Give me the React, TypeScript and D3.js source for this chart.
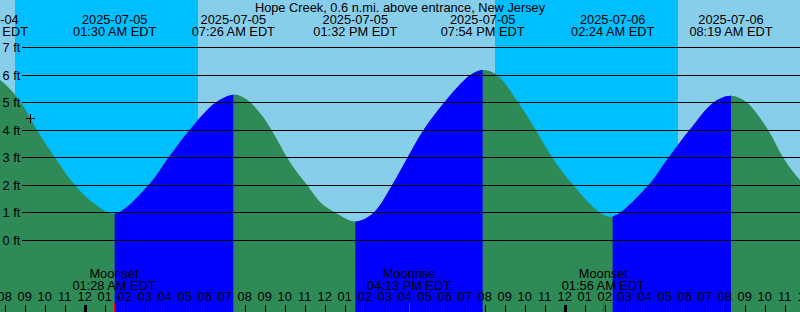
import React from "react";
import * as d3 from "d3";

const title = "Hope Creek, 0.6 n.mi. above entrance, New Jersey";
const windowStart = "2025-07-04 19:46";
const windowEnd = "2025-07-06 11:46";

// High / low tide events
const extremeTimes = [
  "2025-07-04 19:04",
  "2025-07-05 01:30",
  "2025-07-05 07:26",
  "2025-07-05 13:32",
  "2025-07-05 19:54",
  "2025-07-06 02:24",
  "2025-07-06 08:19",
  "2025-07-06 14:05",
];
const extremeHeights = [6.0, 0.97, 5.29, 0.69, 6.18, 0.87, 5.25, 0.6];
const extremeKinds = ["high", "low", "high", "low", "high", "low", "high", "low"];

// Intermediate tide levels
const readingTimes = [
  "2025-07-04 19:47", "2025-07-04 20:49", "2025-07-04 21:37", "2025-07-04 22:31", "2025-07-04 23:31", "2025-07-05 00:30",
  "2025-07-05 03:11", "2025-07-05 04:11", "2025-07-05 05:14", "2025-07-05 06:32",
  "2025-07-05 07:51", "2025-07-05 08:18", "2025-07-05 08:51", "2025-07-05 09:21", "2025-07-05 10:08", "2025-07-05 10:36", "2025-07-05 11:08", "2025-07-05 11:46", "2025-07-05 12:34",
  "2025-07-05 14:26", "2025-07-05 15:22", "2025-07-05 16:08", "2025-07-05 16:56", "2025-07-05 17:58", "2025-07-05 19:17",
  "2025-07-05 20:37", "2025-07-05 21:41", "2025-07-05 22:34", "2025-07-05 23:23", "2025-07-06 00:26", "2025-07-06 01:47",
  "2025-07-06 04:11", "2025-07-06 05:11", "2025-07-06 06:14", "2025-07-06 07:26",
  "2025-07-06 09:07", "2025-07-06 10:11", "2025-07-06 10:56", "2025-07-06 11:47",
];
const readingHeights = [
  5.81, 5.0, 4.0, 3.0, 2.0, 1.32,
  2.0, 3.0, 4.0, 5.0,
  5.22, 5.0, 4.55, 4.0, 3.0, 2.49, 2.0, 1.4, 1.0,
  1.0, 2.0, 3.0, 4.0, 5.0, 6.0,
  6.0, 5.0, 4.0, 3.0, 2.0, 1.0,
  2.0, 3.0, 4.0, 5.0,
  5.0, 4.0, 3.0, 2.18,
];

const sunsetTimes = ["2025-07-04 20:31", "2025-07-05 20:31"];
const sunriseTimes = ["2025-07-05 05:40", "2025-07-06 05:40"];

const moonEvents = ["Moonset", "Moonrise", "Moonset"];
const moonTimes = ["2025-07-05 01:28", "2025-07-05 16:13", "2025-07-06 01:56"];

const heightTicks = [0, 1, 2, 3, 4, 5, 6, 7];

const nowTime = "2025-07-04 21:16";
const nowHeight = 4.43;

const W = 800;
const H = 312;
const FONT = "'Liberation Sans', Arial, Helvetica, sans-serif";
const FS = 12.8;
const DAY = "#87CEEB";
const NIGHT = "#00BFFF";
const FALLING = "#2E8B57";
const RISING = "#0000FF";

const parse = d3.timeParse("%Y-%m-%d %H:%M");
const fmtDate = d3.timeFormat("%Y-%m-%d");
const fmtTime = d3.timeFormat("%I:%M %p EDT");
const fmtHour = d3.timeFormat("%I");

export default function App() {
  const t0 = parse(windowStart)!;
  const t1 = parse(windowEnd)!;
  const x = d3.scaleTime().domain([t0, t1]).range([0, W]);
  const y = d3.scaleLinear().domain([0, 7]).range([240.5, 47.5]);

  const series = [
    ...extremeTimes.map((t, i) => ({ t: parse(t)!, h: extremeHeights[i] })),
    ...readingTimes.map((t, i) => ({ t: parse(t)!, h: readingHeights[i] })),
  ].sort((a, b) => +a.t - +b.t);

  const area = d3
    .area<{ t: Date; h: number }>()
    .x((d) => x(d.t))
    .y0(H)
    .y1((d) => y(d.h))
    .curve(d3.curveCatmullRom.alpha(0.5));
  const areaPath = area(series) || "";

  const rising: { a: Date; b: Date }[] = [];
  extremeTimes.forEach((t, i) => {
    if (extremeKinds[i] === "low" && i + 1 < extremeTimes.length) {
      rising.push({ a: parse(t)!, b: parse(extremeTimes[i + 1])! });
    }
  });

  const nights = sunsetTimes.map((s, i) => ({ a: parse(s)!, b: parse(sunriseTimes[i])! }));

  const hours = d3.timeHour.range(d3.timeHour.offset(t0, -1), d3.timeHour.offset(t1, 1));

  const px = (v: number) => Math.round(v) + 0.5;

  const nx = x(parse(nowTime)!);
  const ny = y(nowHeight);

  return (
    <svg
      width={W}
      height={H}
      style={{ position: "absolute", left: 0, top: 0, display: "block" }}
      fontFamily={FONT}
      fontSize={FS}
    >
      <defs>
        <clipPath id="risingClip">
          {rising.map((r, i) => (
            <rect key={i} x={x(r.a)} y={0} width={x(r.b) - x(r.a)} height={H} />
          ))}
        </clipPath>
      </defs>
      <rect x={0} y={0} width={W} height={H} fill={DAY} />
      {nights.map((n, i) => (
        <rect key={i} x={Math.round(x(n.a))} y={0} width={Math.round(x(n.b)) - Math.round(x(n.a))} height={H} fill={NIGHT} />
      ))}
      <path d={areaPath} fill={FALLING} />
      <path d={areaPath} fill={RISING} clipPath="url(#risingClip)" />

      {heightTicks.map((h) => (
        <g key={h}>
          <line x1={22} x2={W} y1={Math.floor(y(h)) + 0.5} y2={Math.floor(y(h)) + 0.5} stroke="#000" strokeWidth={1} shapeRendering="crispEdges" />
          <text x={2.5} y={y(h) + 4.5} fill="#000">{`${h} ft`}</text>
        </g>
      ))}

      <text x={W / 2} y={11.5} textAnchor="middle" fill="#000">{title}</text>

      {extremeTimes.map((t, i) => {
        const d = parse(t)!;
        const cx = x(d);
        return (
          <g key={i}>
            <text x={cx} y={23.5} textAnchor="middle" fill="#000">{fmtDate(d)}</text>
            <text x={cx} y={35.5} textAnchor="middle" fill="#000">{fmtTime(d)}</text>
          </g>
        );
      })}

      {hours.map((hh, i) => {
        const hx = x(hh);
        const midnight = hh.getHours() === 0;
        return (
          <g key={i}>
            <line
              x1={midnight ? Math.round(hx) : px(hx)}
              x2={midnight ? Math.round(hx) : px(hx)}
              y1={305}
              y2={H}
              stroke="#000"
              strokeWidth={midnight ? 3 : 1}
              shapeRendering="crispEdges"
            />
            <text x={hx} y={301} textAnchor="middle" fill="#000">{fmtHour(hh)}</text>
          </g>
        );
      })}

      {moonTimes.map((t, i) => {
        const d = parse(t)!;
        const mx = x(d);
        return (
          <g key={i}>
            <line x1={px(mx)} x2={px(mx)} y1={303} y2={H} stroke="#FF0000" strokeWidth={1} shapeRendering="crispEdges" />
            <text x={mx} y={277.5} textAnchor="middle" fill="#000">{moonEvents[i]}</text>
            <text x={mx} y={289.5} textAnchor="middle" fill="#000">{fmtTime(d)}</text>
          </g>
        );
      })}

      <g stroke="#000" strokeWidth={1} shapeRendering="crispEdges">
        <line x1={Math.round(nx) - 4} x2={Math.round(nx) + 5} y1={px(ny)} y2={px(ny)} />
        <line x1={px(nx)} x2={px(nx)} y1={Math.round(ny) - 4} y2={Math.round(ny) + 5} />
      </g>
    </svg>
  );
}
